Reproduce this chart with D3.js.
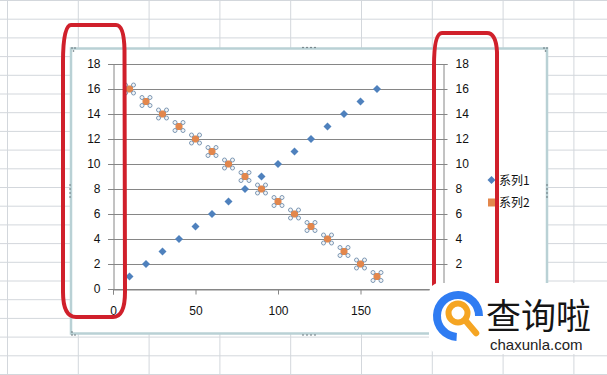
<!DOCTYPE html>
<html>
<head>
<meta charset="utf-8">
<script src="https://cdn.jsdelivr.net/npm/d3@7"></script>
<style>
  html, body { margin: 0; padding: 0; background: #fff; }
  svg { display: block; }
  text { font-family: "Liberation Sans", Arial, sans-serif; }
</style>
</head>
<body>
<div id="chart"></div>
<script>
// Data
const series1X = [10, 20, 30, 40, 50, 60, 70, 80, 90, 100, 110, 120, 130, 140, 150, 160];
const series1Y = [1, 2, 3, 4, 5, 6, 7, 8, 9, 10, 11, 12, 13, 14, 15, 16];
const series2X = [10, 20, 30, 40, 50, 60, 70, 80, 90, 100, 110, 120, 130, 140, 150, 160];
const series2Y = [16, 15, 14, 13, 12, 11, 10, 9, 8, 7, 6, 5, 4, 3, 2, 1];
const seriesNames = ["系列1", "系列2"];
const xTicks = [0, 50, 100, 150, 200];
const yTicks = [0, 2, 4, 6, 8, 10, 12, 14, 16, 18];

const width = 607;
const height = 375;
const blue = "#4f81bd";
const orange = "#e3874c";
const axisGray = "#868686";
const redPen = "#d0202b";

const svg = d3
  .select("#chart")
  .append("svg")
  .attr("width", width)
  .attr("height", height);

// Spreadsheet background grid
const sheet = svg.append("g");
sheet
  .selectAll("line.col")
  .data(d3.range(0, 9))
  .join("line")
  .attr("x1", (k) => 7.5 + 70.8 * k)
  .attr("x2", (k) => 7.5 + 70.8 * k)
  .attr("y1", 0)
  .attr("y2", height)
  .attr("stroke", "#d3d7dc");
sheet
  .selectAll("line.row")
  .data(d3.range(0, 21))
  .join("line")
  .attr("x1", 0)
  .attr("x2", width)
  .attr("y1", (k) => 0.5 + 18.7 * k)
  .attr("y2", (k) => 0.5 + 18.7 * k)
  .attr("stroke", "#d3d7dc");

// Chart area (selected)
svg
  .append("rect")
  .attr("x", 71)
  .attr("y", 48.5)
  .attr("width", 476)
  .attr("height", 285)
  .attr("fill", "#fff")
  .attr("stroke", "#b9d1d5")
  .attr("stroke-width", 2.5);

// grip dots
const grips = [];
[303, 307, 311, 315].forEach((gx) => {
  grips.push([gx, 47.5]);
  grips.push([gx, 335]);
});
[185, 189, 193, 197].forEach((gy) => {
  grips.push([70, gy]);
  grips.push([547, gy]);
});
grips.push([72, 48], [75, 48], [73.5, 51]);
grips.push([544, 48], [547, 48], [545.5, 51]);
grips.push([72, 332], [72, 335], [75, 335]);
svg
  .append("g")
  .selectAll("circle")
  .data(grips)
  .join("circle")
  .attr("cx", (d) => d[0])
  .attr("cy", (d) => d[1])
  .attr("r", 0.8)
  .attr("fill", "#5a6a70");

// Scales
const x = d3.scaleLinear().domain([0, 200]).range([113, 443]);
const y = d3.scaleLinear().domain([0, 18]).range([289, 64]);

// Gridlines
svg
  .append("g")
  .selectAll("line")
  .data(yTicks)
  .join("line")
  .attr("x1", x(0) - 5)
  .attr("x2", x(200) + 4)
  .attr("y1", (d) => Math.round(y(d)) + 0.5)
  .attr("y2", (d) => Math.round(y(d)) + 0.5)
  .attr("stroke", axisGray);

// Axes
const leftAxis = svg
  .append("g")
  .attr("transform", `translate(${x(0) + 0.5},0)`)
  .call(d3.axisLeft(y).tickValues(yTicks).tickSize(5).tickPadding(8));
const rightAxis = svg
  .append("g")
  .attr("transform", `translate(${x(200) + 0.5},0)`)
  .call(d3.axisRight(y).tickValues(yTicks).tickSize(4).tickPadding(8));
const bottomAxis = svg
  .append("g")
  .attr("transform", `translate(0,${Math.round(y(0)) + 0.5})`)
  .call(d3.axisBottom(x).tickValues(xTicks).tickSize(5).tickPadding(12));

[leftAxis, rightAxis, bottomAxis].forEach((a) => {
  a.select(".domain").attr("stroke", axisGray);
  a.selectAll(".tick line").attr("stroke", axisGray);
  a.selectAll(".tick text")
    .attr("fill", "#111")
    .style("font-size", "12px")
    .style("font-family", '"Liberation Sans", Arial, sans-serif');
});
bottomAxis.selectAll(".tick text").attr("dy", "0.7em");

// Series 1 - blue diamonds
const s1 = series1X.map((d, i) => ({ x: d, y: series1Y[i] }));
const s2 = series2X.map((d, i) => ({ x: d, y: series2Y[i] }));
const diamond = (cx, cy, r) =>
  `M${cx},${cy - r}L${cx + r},${cy}L${cx},${cy + r}L${cx - r},${cy}Z`;

svg
  .append("g")
  .selectAll("path")
  .data(s1)
  .join("path")
  .attr("d", (d) => diamond(x(d.x), y(d.y), 4))
  .attr("fill", blue);

// Series 2 - orange squares, selected (with handles)
const s2g = svg
  .append("g")
  .selectAll("g")
  .data(s2)
  .join("g")
  .attr("transform", (d) => `translate(${x(d.x)},${y(d.y)})`);
s2g
  .append("rect")
  .attr("x", -3.5)
  .attr("y", -3.5)
  .attr("width", 7)
  .attr("height", 7)
  .attr("fill", orange);
s2g
  .selectAll("circle")
  .data([[-4, -4], [4, -4], [-4, 4], [4, 4]])
  .join("circle")
  .attr("cx", (d) => d[0])
  .attr("cy", (d) => d[1])
  .attr("r", 2)
  .attr("fill", "#f4f6f8")
  .attr("stroke", "#7d98b4")
  .attr("stroke-width", 1);

// Legend
const legend = svg.append("g");
legend
  .append("path")
  .attr("d", diamond(491.5, 180, 4))
  .attr("fill", blue);
legend
  .append("rect")
  .attr("x", 488)
  .attr("y", 198.5)
  .attr("width", 8)
  .attr("height", 8)
  .attr("fill", orange);
legend
  .selectAll("text")
  .data(seriesNames)
  .join("text")
  .attr("x", 499)
  .attr("y", (d, i) => 184.5 + i * 22)
  .style("font-size", "12px")
  .style("font-family", '"Noto Sans CJK SC", "Liberation Sans", sans-serif')
  .attr("fill", "#111")
  .text((d) => d);

// Red hand-drawn marks
const pen = svg
  .append("g")
  .attr("fill", "none")
  .attr("stroke", redPen)
  .attr("stroke-width", 4)
  .attr("stroke-linejoin", "round");
pen
  .append("path")
  .attr(
    "d",
    "M71,25 L116,25 Q124,25 124.5,50 L125,292 Q125,317 113,317 L76,317 Q63,317 63,292 L63,62 Q63,25 71,25 Z"
  );
pen
  .append("path")
  .attr(
    "d",
    "M442,33 L487,33 Q496,33 497,52 L497,292 Q497,315 485,315 L446,315 Q434,315 434,292 L434,66 Q434,33 442,33 Z"
  );

// Watermark logo
const logo = svg.append("g");
logo
  .append("rect")
  .attr("x", 429)
  .attr("y", 283)
  .attr("width", 200)
  .attr("height", 71)
  .attr("rx", 10)
  .attr("fill", "#fff");
const ringArc = d3.arc();
logo
  .append("path")
  .attr("transform", "translate(458,316)")
  .attr(
    "d",
    ringArc({
      innerRadius: 17,
      outerRadius: 25,
      startAngle: Math.PI * 1.02,
      endAngle: Math.PI * 2.5,
    })
  )
  .attr("fill", "#2f7cf2");
logo
  .append("circle")
  .attr("cx", 458)
  .attr("cy", 313)
  .attr("r", 9.5)
  .attr("fill", "none")
  .attr("stroke", "#f5a523")
  .attr("stroke-width", 6);
logo
  .append("line")
  .attr("x1", 465)
  .attr("y1", 320)
  .attr("x2", 476)
  .attr("y2", 333)
  .attr("stroke", "#f5a523")
  .attr("stroke-width", 6.5)
  .attr("stroke-linecap", "round");
logo
  .append("text")
  .attr("x", 486)
  .attr("y", 329)
  .style("font-size", "35px")
  .style("font-family", '"Noto Sans CJK SC", sans-serif')
  .attr("fill", "#151515")
  .text("查询啦");
logo
  .append("text")
  .attr("x", 490)
  .attr("y", 350)
  .style("font-size", "15px")
  .attr("fill", "#222")
  .text("chaxunla.com");
</script>
</body>
</html>
